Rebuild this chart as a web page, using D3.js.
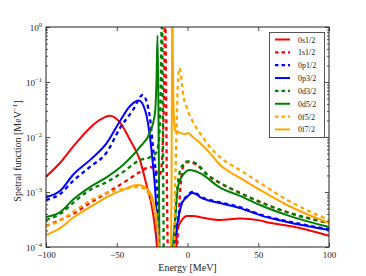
<!DOCTYPE html>
<html><head><meta charset="utf-8">
<script src="https://cdn.jsdelivr.net/npm/d3@7"></script>
<style>body{margin:0;background:#fff}svg{display:block}text{font-family:"Liberation Serif","DejaVu Serif",serif;fill:#222}</style>
</head><body>
<svg id="c" width="366" height="276"></svg>
<script>
// ---- data ----
const seriesNames = ["0s1/2","1s1/2","0p1/2","0p3/2","0d3/2","0d5/2","0f5/2","0f7/2"];
const seriesColors = ["#ff0000","#ff0000","#0000ff","#0000ff","#008000","#008000","#ffa500","#ffa500"];
const seriesDashed = [false,true,true,false,true,false,true,false];

const energy_0s12 = [-100,-90,-81,-69,-62,-55,-48,-40.6,-33.6,-28.6,-25.1,-23,-21.6,-20.5,-8.5,-7.4,-3.9,-0.4,3.9,11,23,37,51,58,70,80,100];
const value_0s12  = [1.9e-3,3.4e-3,6.6e-3,1.46e-2,2.04e-2,2.44e-2,1.88e-2,8.8e-3,3.8e-3,1.23e-3,5.3e-4,2.3e-4,1e-4,3e-5,3e-5,2e-4,3.1e-4,3.66e-4,3.66e-4,3.4e-4,3.1e-4,3.3e-4,3.05e-4,2.75e-4,2.45e-4,2.2e-4,1.6e-4];

const energy_1s12 = [-100,-90,-81,-69,-57,-45.6,-33.6,-26.5,-23,-20.8,-19,-18,-17.2,-16.5,-15.8,-15.2,-14.7,-14,-13.5,-8.5,-7.2,-5.5,-3.2,-0.4,1.8,6.7,13.8,23,37.1,51.2,70.3,100];
const value_1s12  = [2.4e-4,3.1e-4,4e-4,6.3e-4,9.6e-4,1.46e-3,2.3e-3,2.85e-3,2.7e-3,2.0e-3,2.2e-3,4e-3,1.2e-2,8e-2,3,0.1,3e-3,1e-4,3e-5,3e-5,1.2e-4,8e-4,2.85e-3,3.5e-3,3.5e-3,3.1e-3,2.04e-3,1.46e-3,9.6e-4,6.6e-4,4.3e-4,2.73e-4];

const energy_0p12 = [-100,-90,-81,-69,-57,-47.7,-38.5,-31.7,-28.6,-26.5,-24.4,-22.3,-20.8,-20.1,-19.4,-10.5,-9.5,-8.1,-6.7,-3.9,-0.4,3.2,6,8.8,23,37.1,51.2,70.3,100];
const value_0p12  = [7.2e-4,9.2e-4,1.58e-3,2.85e-3,5.3e-3,1.46e-2,3.1e-2,5.8e-2,4.15e-2,2.2e-2,6.6e-3,2.04e-3,4.7e-4,1e-4,3e-5,3e-5,1e-4,1.95e-4,3.2e-4,6.5e-4,8.4e-4,1e-3,9.5e-4,8.4e-4,6.5e-4,5.3e-4,3.9e-4,2.95e-4,2.1e-4];

const energy_0p32 = [-100,-90,-81,-69,-57,-47.7,-40.6,-34.3,-30,-26.5,-24.4,-23,-21.6,-20.8,-20.1,-10.5,-9.5,-8.1,-6.7,-3.9,-0.4,3.2,6,8.8,23,37.1,51.2,70.3,100];
const value_0p32  = [8.1e-4,1.05e-3,2.04e-3,3.8e-3,7.8e-3,1.95e-2,3.66e-2,4.6e-2,3.1e-2,1e-2,3.1e-3,1.23e-3,3.1e-4,1e-4,3e-5,3e-5,1e-4,1.87e-4,3.1e-4,6.3e-4,8.1e-4,9.6e-4,9.2e-4,8.1e-4,6.3e-4,5.1e-4,3.8e-4,2.85e-4,2.04e-4];

const energy_0d32 = [-100,-90,-81,-69,-57,-45.6,-33.6,-26.5,-22.3,-20.1,-19.2,-18.6,-18.1,-17.6,-17.1,-16.6,-10.5,-9.3,-8.3,-6.7,-5,-3.2,-0.4,1.8,6.7,13.8,23,37.1,51.2,70.3,100];
const value_0d32  = [3.1e-4,4e-4,6.3e-4,1.09e-3,1.52e-3,2.3e-3,3.8e-3,4.3e-3,5.1e-3,9e-3,4e-2,0.3,3,0.1,1e-3,3e-5,3e-5,1e-4,5e-4,1.5e-3,2.6e-3,3.1e-3,3.6e-3,3.6e-3,3.2e-3,2.1e-3,1.46e-3,9.6e-4,6.6e-4,4.3e-4,2.73e-4];

const energy_0d52 = [-100,-90,-81,-69,-57,-45.6,-33.6,-26.5,-23,-21.9,-21.2,-20.6,-20.1,-19.6,-10.8,-10.2,-8.8,-6.7,-3.2,1.8,8.8,23,37.1,51.2,70.3,100];
const value_0d52  = [3.5e-4,4.3e-4,7.2e-4,1.23e-3,1.87e-3,3.1e-3,6.6e-3,1.23e-2,2.73e-2,0.109,0.7,0.05,1e-3,3e-5,3e-5,1e-4,3.1e-4,1.23e-3,2.04e-3,2.5e-3,2.2e-3,1.2e-3,8.5e-4,5.8e-4,3.8e-4,2.3e-4];

const energy_0f52 = [-100,-90,-81,-69,-57,-45.6,-35.7,-31.4,-27.9,-24.4,-21.6,-20.1,-19.4,-9.8,-9.3,-8.8,-8.1,-7.4,-6.7,-5.7,-4.6,-3.2,-0.4,3.9,8.8,15.9,23,37.1,51.2,70.3,100];
const value_0f52  = [2.4e-4,3e-4,4.3e-4,6.9e-4,9.6e-4,1.13e-3,1.23e-3,1.18e-3,9.6e-4,5.8e-4,2.5e-4,1e-4,3e-5,3e-5,1e-4,1e-3,5.8e-3,3.1e-2,0.109,0.18,0.134,6.3e-2,3.37e-2,1.87e-2,1.18e-2,6.6e-3,4.3e-3,2.5e-3,1.46e-3,7.2e-4,3.1e-4];

const energy_0f72 = [-100,-90,-81,-69,-57,-45.6,-35.7,-31.4,-27.9,-24.4,-21.6,-20.5,-19.8,-11.8,-11.3,-11,-10.7,-10.4,-10,-9.5,-8.8,-5.3,-1.8,0.4,3.2,8.8,15.9,23,30,37.1,51.2,70.3,100];
const value_0f72  = [1.65e-4,2.2e-4,3.4e-4,5.3e-4,8.1e-4,1.09e-3,1.34e-3,1.29e-3,1.09e-3,7.2e-4,2.85e-4,1e-4,3e-5,3e-5,1e-3,0.1,5,0.3,5e-2,2e-2,1.34e-2,1.2e-2,1.13e-2,1.18e-2,1.03e-2,7.8e-3,5.1e-3,3.1e-3,2.31e-3,1.8e-3,1.09e-3,5.8e-4,2.73e-4];

const xTicks = [-100,-50,0,50,100];
const xTickLabels = ["\u2212100","\u221250","0","50","100"];
const yTicks = [1,1e-1,1e-2,1e-3,1e-4];
const yTickExponents = ["0","\u22121","\u22122","\u22123","\u22124"];
const xLabel = "Energy [MeV]";
const yLabel = "Spetral function [MeV";

// ---- chart ----
const energies = [energy_0s12,energy_1s12,energy_0p12,energy_0p32,energy_0d32,energy_0d52,energy_0f52,energy_0f72];
const values = [value_0s12,value_1s12,value_0p12,value_0p32,value_0d32,value_0d52,value_0f52,value_0f72];

const L=46,T=27,R=329,B=247;
const svg = d3.select("#c");
const x = d3.scaleLinear().domain([-100,100]).range([L,R]);
const y = d3.scaleLog().domain([1e-4,1]).range([B,T]);

svg.append("defs").append("clipPath").attr("id","clip")
  .append("rect").attr("x",L).attr("y",T).attr("width",R-L).attr("height",B-T);

const line = d3.line().x(d=>x(d[0])).y(d=>y(d[1])).curve(d3.curveMonotoneX);
const g = svg.append("g").attr("clip-path","url(#clip)");
seriesNames.forEach((n,i)=>{
  const pts = energies[i].map((e,j)=>[e,values[i][j]]);
  g.append("path").datum(pts).attr("d",line).attr("fill","none")
   .attr("stroke",seriesColors[i]).attr("stroke-width",seriesDashed[i]?2.3:2)
   .attr("stroke-dasharray",seriesDashed[i]?"4,3.5":null);
});

// minor ticks
const minor=[];
for(let p=-4;p<0;p++) for(let k=2;k<=9;k++) minor.push(k*Math.pow(10,p));

function styleAxis(sel){sel.select(".domain").remove();sel.selectAll("line").attr("stroke","#222").attr("stroke-width",0.8);}
svg.append("g").attr("transform",`translate(0,${B})`)
  .call(d3.axisBottom(x).tickValues(xTicks).tickSize(-4).tickPadding(5).tickFormat((d,i)=>xTickLabels[i]))
  .call(styleAxis).selectAll("text").attr("font-size",9).attr("font-family","Liberation Serif");
svg.append("g").attr("transform",`translate(0,${T})`)
  .call(d3.axisTop(x).tickValues(xTicks).tickSize(-4).tickFormat("")).call(styleAxis);
svg.append("g").attr("transform",`translate(${L},0)`)
  .call(d3.axisLeft(y).tickValues(yTicks).tickSize(-4).tickFormat("")).call(styleAxis);
svg.append("g").attr("transform",`translate(${L},0)`)
  .call(d3.axisLeft(y).tickValues(minor).tickSize(-2).tickFormat("")).call(styleAxis);
svg.append("g").attr("transform",`translate(${R},0)`)
  .call(d3.axisRight(y).tickValues(yTicks).tickSize(-4).tickFormat("")).call(styleAxis);
svg.append("g").attr("transform",`translate(${R},0)`)
  .call(d3.axisRight(y).tickValues(minor).tickSize(-2).tickFormat("")).call(styleAxis);

// y tick labels with superscripts
yTicks.forEach((t,i)=>{
  const tx = svg.append("text").attr("x",42).attr("y",y(t)+3.5).attr("text-anchor","end").attr("font-size",9);
  tx.append("tspan").text("10");
  tx.append("tspan").attr("dy",-4).attr("font-size",6.5).text(yTickExponents[i]);
});

// frame
svg.append("rect").attr("x",L).attr("y",T).attr("width",R-L).attr("height",B-T)
  .attr("fill","none").attr("stroke","#222").attr("stroke-width",1);

// axis labels
svg.append("text").attr("x",(L+R)/2).attr("y",270.5).attr("text-anchor","middle").attr("font-size",10).text(xLabel);
const yl = svg.append("text").attr("transform",`translate(21,151) rotate(-90)`).attr("text-anchor","middle").attr("font-size",10);
yl.append("tspan").text(yLabel);
yl.append("tspan").attr("dy",-4).attr("font-size",7).text("\u22121");
yl.append("tspan").attr("dy",4).text("]");

// legend
const lg = svg.append("g");
lg.append("rect").attr("x",269.5).attr("y",32.5).attr("width",55).attr("height",105)
  .attr("fill","#fff").attr("stroke","#555").attr("stroke-width",1);
seriesNames.forEach((n,i)=>{
  const yy = 39.5 + i*12.85;
  lg.append("line").attr("x1",275).attr("x2",290).attr("y1",yy).attr("y2",yy)
    .attr("stroke",seriesColors[i]).attr("stroke-width",seriesDashed[i]?2.3:2)
    .attr("stroke-dasharray",seriesDashed[i]?"3.5,3":null);
  lg.append("text").attr("x",298).attr("y",yy+3).attr("font-size",8).text(n);
});
</script>
</body></html>
